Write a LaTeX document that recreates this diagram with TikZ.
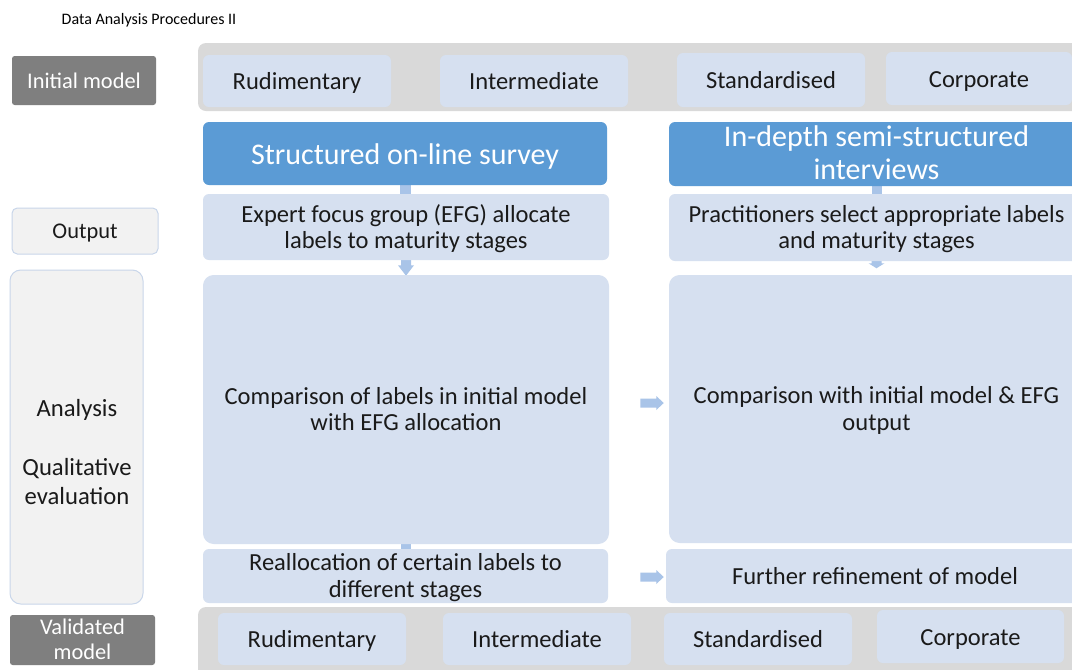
\documentclass[tikz,border=0pt]{standalone}
\usepackage{fontspec}
\setmainfont{Carlito}
\usetikzlibrary{fit,calc,backgrounds}
\definecolor{boxblue}{HTML}{D6E0F0}
\definecolor{hdrblue}{HTML}{5B9BD5}
\definecolor{bandgray}{HTML}{D9D9D9}
\definecolor{darkgray}{HTML}{7F7F7F}
\definecolor{palegray}{HTML}{F2F2F2}
\definecolor{paleborder}{HTML}{C9D6EA}
\definecolor{arrowc}{HTML}{A9C4E8}
\definecolor{textc}{HTML}{1A1A1A}
\begin{document}
\begin{tikzpicture}[x=0.75pt,y=-0.75pt,
  struts/.style={execute at begin node=\strut, execute at end node=\strut},
  band/.style={fill=bandgray, rounded corners=6pt, inner sep=0pt},
  lbox/.style={fill=boxblue, rounded corners=4.5pt, inner sep=0pt},
  ltxt/.style={struts, yshift=-2.7pt, align=center, text=textc, inner sep=0pt, font=\fontsize{18.4}{19.9}\selectfont},
  hdr/.style={fill=hdrblue, rounded corners=4.5pt, inner sep=0pt},
  htxt/.style={struts, yshift=-3pt, align=center, text=white, inner sep=0pt, font=\fontsize{22.5}{24.75}\selectfont},
  darklab/.style={fill=darkgray, rounded corners=2pt, inner sep=0pt},
  dtxt/.style={struts, yshift=-2pt, align=center, text=white, inner sep=0pt, font=\fontsize{16.8}{18.75}\selectfont},
  palelab/.style={fill=palegray, draw=paleborder, line width=0.75pt, rounded corners=4pt, inner sep=0pt},
  ptxt/.style={struts, yshift=-1.8pt, align=center, text=textc, inner sep=0pt, font=\fontsize{16.8}{18.75}\selectfont},
  tab/.style={fill=arrowc}
]
\useasboundingbox (0,0) rectangle (1072,669);
\clip (0,0) rectangle (1072,669);
\begin{scope}[on background layer]
  \fill[white] (0,0) rectangle (1072,669);
\end{scope}

% title
\node[text=black, font=\fontsize{12}{14}\selectfont, inner sep=0pt] (title) at (149,20) {Data Analysis Procedures II};

% left labels
\node[darklab, fit={(12,56)(156,105)}] (init) {};
\node[dtxt] at (init.center) {Initial model};
\node[palelab, fit={(12,208)(158,254)}] (out) {};
\node[ptxt] at (out.center) {Output};
\node[palelab, rounded corners=8pt, fit={(10,270)(143,604)}] (ana) {};
\node[align=center, text=textc, font=\fontsize{18.5}{22.1}\selectfont, inner sep=0pt] (anatext) at (77,452)
  {Analysis\\\mbox{}\\Qualitative\\evaluation};
\node[darklab, fit={(10,615)(155,665)}] (valid) {};
\node[dtxt] at (valid.center) {Validated\\model};

% top band
\node[band, fit={(198,43)(1095,111)}] (topband) {};
\node[lbox, fit={(203,55)(391,107)}] (t1) {};
\node[ltxt] at (t1.center) {Rudimentary};
\node[lbox, fit={(440,55)(628,107)}] (t2) {};
\node[ltxt] at (t2.center) {Intermediate};
\node[lbox, fit={(677,53)(865,107)}] (t3) {};
\node[ltxt] at (t3.center) {Standardised};
\node[lbox, fit={(886,52)(1072,105)}] (t4) {};
\node[ltxt] at (t4.center) {Corporate};

% bottom band
\node[band, fit={(198,607)(1095,690)}] (botband) {};
\node[lbox, fit={(218,613)(406,665)}] (b1) {};
\node[ltxt] at (b1.center) {Rudimentary};
\node[lbox, fit={(443,613)(631,665)}] (b2) {};
\node[ltxt] at (b2.center) {Intermediate};
\node[lbox, fit={(664,613)(852,665)}] (b3) {};
\node[ltxt] at (b3.center) {Standardised};
\node[lbox, fit={(877,610)(1064,663)}] (b4) {};
\node[ltxt] at (b4.center) {Corporate};

% left column
\node[hdr, fit={(203,122)(607,185)}] (hdrL) {};
\node[htxt] at (hdrL.center) {Structured on-line survey};
\node[lbox, fit={(203,194)(609,260)}] (efg) {};
\node[ltxt] at (efg.center) {Expert focus group (EFG) allocate\\labels to maturity stages};
\node[lbox, rounded corners=8pt, fit={(203,275)(609,544)}] (bigL) {};
\node[ltxt] at (bigL.center) {Comparison of labels in initial model\\with EFG allocation};
\node[lbox, fit={(203,549)(608,603)}] (realloc) {};
\node[ltxt] at (realloc.center) {Reallocation of certain labels to\\different stages};

% right column
\node[hdr, fit={(669,122)(1084,186)}] (hdrR) {};
\node[htxt] at (hdrR.center) {In-depth semi-structured\\interviews};
\node[lbox, fit={(669,194)(1084,261)}] (prac) {};
\node[ltxt] at (prac.center) {Practitioners select appropriate labels\\and maturity stages};
\node[lbox, rounded corners=8pt, fit={(669,275)(1084,543)}] (bigR) {};
\node[ltxt] at (bigR.center) {Comparison with initial model \& EFG\\output};
\node[lbox, fit={(666,549)(1084,603)}] (refine) {};
\node[ltxt] at (refine.center) {Further refinement of model};

% connectors (behind boxes)
\begin{scope}[on background layer]
  \fill[tab] ($(hdrL.south)+(-5,-8)$) rectangle ($(efg.north)+(5,6)$);
  \fill[tab] ($(efg.south)+(-5,-10)$) -- ($(efg.south)+(5,-10)$) -- ($(efg.south)+(5,5)$)
     -- ($(efg.south)+(8,5)$) -- ($(bigL.north)+(0,1)$) -- ($(efg.south)+(-8,5)$) -- ($(efg.south)+(-5,5)$) -- cycle;
  \fill[tab] ($(bigL.south)+(-5,-6)$) rectangle ($(realloc.north)+(5,4)$);
  \fill[tab] ($(hdrR.south)+(-5,-8)$) rectangle ($(prac.north)+(5,6)$);
  \fill[tab] ($(prac.south)+(-5,-10)$) -- ($(prac.south)+(5,-10)$) -- ($(prac.south)+(5,2)$)
     -- ($(prac.south)+(8,2)$) -- ($(prac.south)+(0,7)$) -- ($(prac.south)+(-8,2)$) -- ($(prac.south)+(-5,2)$) -- cycle;
\end{scope}

% horizontal block arrows
\fill[tab] ($(bigL.east)+(31,-11)$) -- ++(16,0) -- ++(0,-2.5) -- ++(7.5,7) -- ++(-7.5,7) -- ++(0,-2.5) -- ++(-16,0) -- cycle;
\fill[tab] ($(realloc.east)+(32,-3.5)$) -- ++(16,0) -- ++(0,-2.5) -- ++(7.5,7) -- ++(-7.5,7) -- ++(0,-2.5) -- ++(-16,0) -- cycle;
\end{tikzpicture}
\end{document}
